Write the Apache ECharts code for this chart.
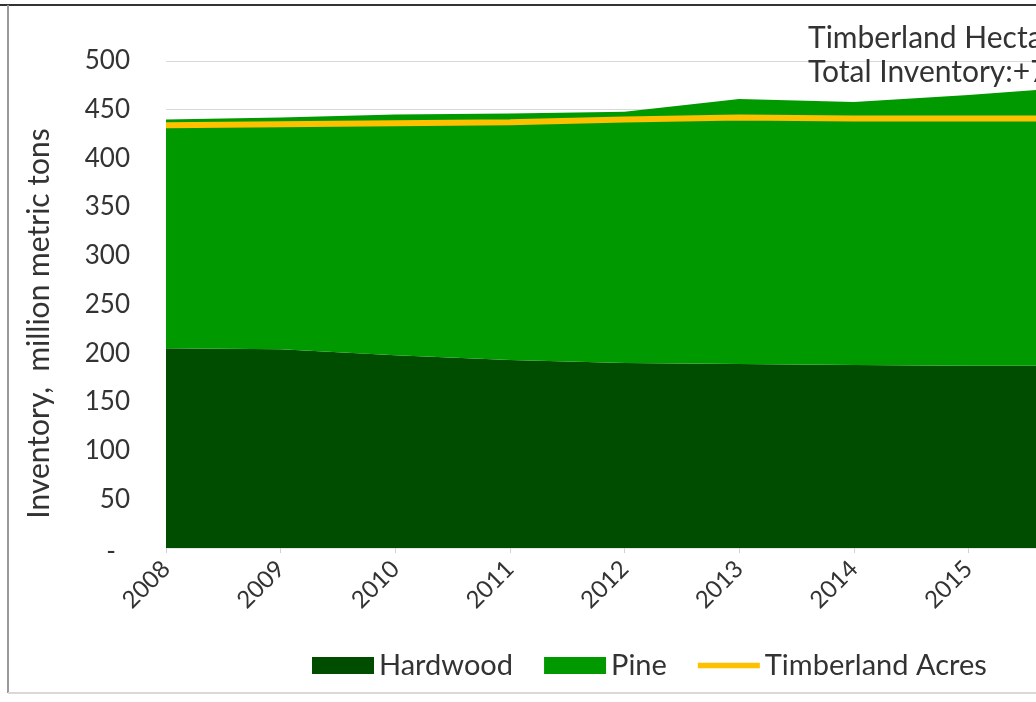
<!DOCTYPE html>
<html>
<head>
<meta charset="utf-8">
<script src="https://cdn.jsdelivr.net/npm/echarts@6/dist/echarts.min.js"></script>
<style>
html,body{margin:0;padding:0;background:#fff;}
#chart{width:1036px;height:702px;}
</style>
</head>
<body>
<div id="chart"></div>
<script>
// ---- data ----
const years = ['2008','2009','2010','2011','2012','2013','2014','2015','2016'];
const hardwood = [205, 204, 198, 193, 190, 189, 188, 187, 187];
const pine = [235, 238, 247, 253, 258, 272, 270, 278, 287];
const timberland = [434, 435, 436, 437, 440, 442, 441, 441, 441];
const yTicks = [0, 50, 100, 150, 200, 250, 300, 350, 400, 450, 500];
const noteLines = ['Timberland Hectares: +1%', 'Total Inventory:+7%'];

const FONT = 'Lato';
const TXT = '#333333';
const chart = echarts.init(document.getElementById('chart'), null, {renderer: 'canvas'});

const option = {
  backgroundColor: '#ffffff',
  animation: false,
  textStyle: {fontFamily: FONT},
  grid: {left: 166, top: 61, width: 917, height: 487, containLabel: false, outerBoundsMode: 'none'},
  xAxis: {
    type: 'category',
    data: years,
    boundaryGap: false,
    axisLine: {show: true, lineStyle: {color: '#e6e6e6', width: 1}},
    axisTick: {show: true, alignWithLabel: true, length: 5, lineStyle: {color: '#d0d0d0'}},
    axisLabel: {rotate: 45, margin: 17, fontSize: 24, color: TXT, fontFamily: FONT}
  },
  yAxis: {
    type: 'value',
    min: yTicks[0],
    max: yTicks[yTicks.length - 1],
    interval: 50,
    name: 'Inventory,  million metric tons',
    nameLocation: 'middle',
    nameGap: 112,
    nameRotate: 90,
    nameTextStyle: {fontSize: 30, color: TXT, fontFamily: FONT, padding: [0, 38, 0, 0]},
    axisLine: {show: false},
    axisTick: {show: false},
    splitLine: {show: true, lineStyle: {color: '#d9d9d9', width: 1}},
    axisLabel: {
      margin: 36, fontSize: 26, color: TXT, fontFamily: FONT,
      formatter: function (v) { return v === 0 ? '{d|-}' : String(v); },
      rich: {d: {fontSize: 26, color: TXT, fontFamily: FONT, padding: [8, 14, 0, 0]}}
    }
  },
  legend: {
    left: 307,
    top: 646,
    itemWidth: 62,
    itemHeight: 17,
    itemGap: 31,
    textStyle: {fontSize: 29, color: TXT, fontFamily: FONT},
    data: [
      {name: 'Hardwood', icon: 'rect'},
      {name: 'Pine', icon: 'rect'},
      {name: 'Timberland Acres', icon: 'path://M0,0 L70,0 L70,6 L0,6 Z'}
    ]
  },
  series: [
    {
      name: 'Hardwood', type: 'line', stack: 'inv', data: hardwood,
      showSymbol: false, symbol: 'none', smooth: false,
      lineStyle: {width: 0}, itemStyle: {color: '#004d00'},
      areaStyle: {color: '#004d00', opacity: 1}, z: 2
    },
    {
      name: 'Pine', type: 'line', stack: 'inv', data: pine,
      showSymbol: false, symbol: 'none', smooth: false,
      lineStyle: {width: 0}, itemStyle: {color: '#009a00'},
      areaStyle: {color: '#009a00', opacity: 1}, z: 2
    },
    {
      name: 'Timberland Acres', type: 'line', data: timberland,
      showSymbol: false, symbol: 'none', smooth: false,
      lineStyle: {width: 6, color: '#ffc000'}, itemStyle: {color: '#ffc000'}, z: 3
    }
  ],
  graphic: [
    {type: 'line', shape: {x1: 0, y1: 5, x2: 1036, y2: 5}, style: {stroke: '#333333', lineWidth: 2}, z: 100},
    {type: 'line', shape: {x1: 8, y1: 5, x2: 8, y2: 693}, style: {stroke: '#9a9a9a', lineWidth: 2}, z: 100},
    {type: 'line', shape: {x1: 8, y1: 693, x2: 1036, y2: 693}, style: {stroke: '#d8d8d8', lineWidth: 2}, z: 100},
    {type: 'text', x: 808, y: 38, style: {text: noteLines[0], font: '30px ' + FONT, fill: TXT, verticalAlign: 'middle'}, z: 100},
    {type: 'text', x: 808, y: 72, style: {text: noteLines[1], font: '30px ' + FONT, fill: TXT, verticalAlign: 'middle'}, z: 100}
  ]
};
chart.setOption(option);
</script>
</body>
</html>
